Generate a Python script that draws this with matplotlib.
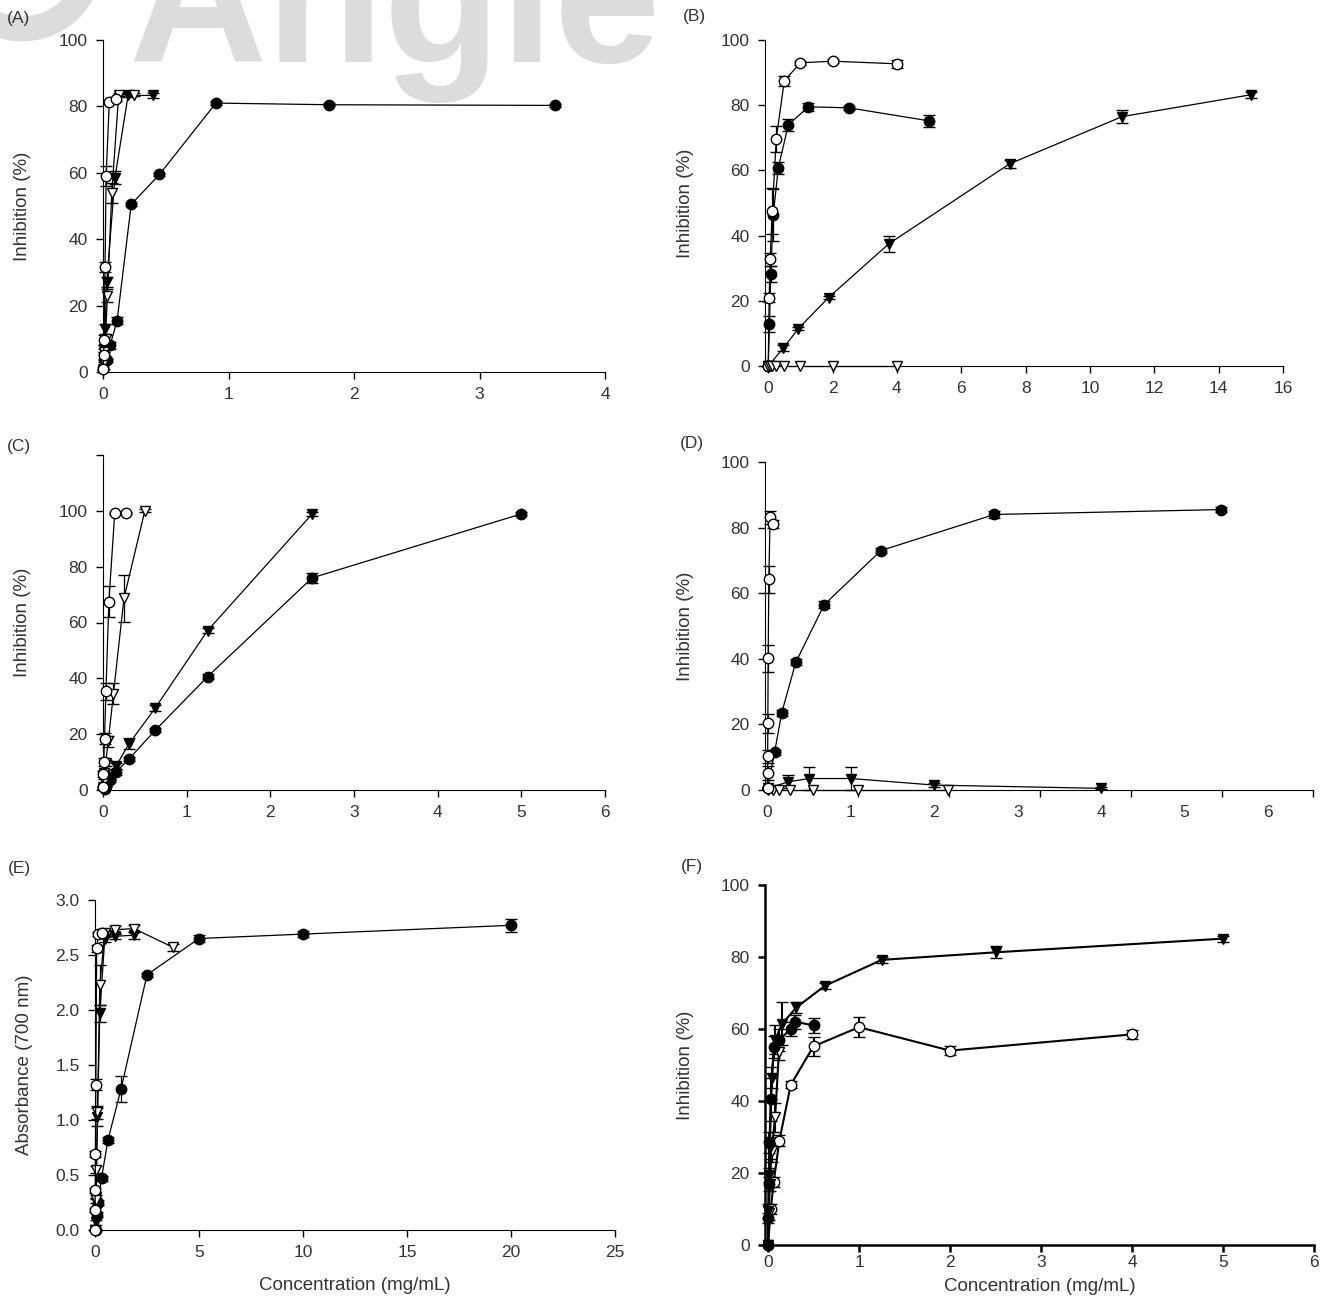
import numpy as np
import matplotlib
matplotlib.use("Agg")
import matplotlib.pyplot as plt
from matplotlib.patches import Circle

plt.rcParams["font.family"] = ["Liberation Sans", "DejaVu Sans"]

# ---- Panel A ----
a_fc_x = [0.028, 0.056, 0.1125, 0.225, 0.45, 0.9, 1.8, 3.6]
a_fc_y = [3.5, 8, 15.5, 50.5, 59.5, 81, 80.5, 80.3]
a_fc_e = [0.5, 1, 1, 0.5, 0.5, 0.5, 0.5, 0.5]
a_oc_x = [0.002, 0.004, 0.008, 0.016, 0.025, 0.05, 0.1]
a_oc_y = [1, 5, 9.5, 31.5, 59, 81.3, 82.2]
a_oc_e = [0.5, 1, 1.5, 1.5, 3, 0.5, 0.5]
a_ft_x = [0.004, 0.008, 0.016, 0.03, 0.095, 0.2, 0.4]
a_ft_y = [2, 7, 13, 27, 58.5, 83.3, 83.3]
a_ft_e = [1, 1, 1.5, 1.5, 2, 0.5, 0.8]
a_ot_x = [0.002, 0.005, 0.01, 0.02, 0.035, 0.07, 0.125, 0.25]
a_ot_y = [0.5, 3, 6, 10, 23, 54, 83.5, 83.5]
a_ot_e = [0.5, 0.5, 1, 1, 2, 3, 0.5, 0.5]

# ---- Panel B ----
b_oc_x = [0, 0.03, 0.06, 0.125, 0.25, 0.5, 1, 2, 4]
b_oc_y = [0, 21, 32.7, 47.5, 69.7, 87.5, 93, 93.5, 92.7]
b_oc_e = [0, 1.5, 2, 7, 4, 1.5, 0.7, 0.7, 1.2]
b_fc_x = [0, 0.039, 0.078, 0.156, 0.3125, 0.625, 1.25, 2.5, 5]
b_fc_y = [0, 12.8, 28.3, 46.2, 60.8, 74, 79.5, 79.2, 75.2]
b_fc_e = [0, 2.5, 2.5, 8, 1.8, 1.8, 1.2, 0.6, 1.8]
b_ft_x = [0, 0.47, 0.94, 1.875, 3.75, 7.5, 11, 15]
b_ft_y = [0, 5.5, 11.5, 21, 37.5, 62, 76.5, 83.2]
b_ft_e = [0, 1, 0.5, 0.5, 2.5, 1.2, 2, 1]
b_ot_x = [0, 0.0625, 0.125, 0.25, 0.5, 1, 2, 4]
b_ot_y = [0, 0, 0, 0, 0, 0, 0, 0]

# ---- Panel C ----
c_fc_x = [0.02, 0.039, 0.078, 0.156, 0.3125, 0.625, 1.25, 2.5, 5]
c_fc_y = [0.5, 1.5, 3.5, 6.5, 11.2, 21.4, 40.6, 76, 98.9]
c_fc_e = [0.3, 0.5, 0.5, 1, 0.8, 0.8, 0.8, 1.7, 0.8]
c_ft_x = [0.02, 0.039, 0.078, 0.156, 0.3125, 0.625, 1.25, 2.5]
c_ft_y = [0.5, 2, 4.5, 8.6, 16.6, 29.4, 57.1, 98.9]
c_ft_e = [0.3, 0.5, 0.8, 1, 2, 1, 0.8, 0.8]
c_oc_x = [0.002, 0.004, 0.009, 0.018, 0.035, 0.07, 0.14, 0.28]
c_oc_y = [1, 5.7, 10, 18.3, 35.4, 67.4, 99.2, 99.2]
c_oc_e = [0.5, 1, 1.5, 2, 3, 5.5, 0.3, 0.3]
c_ot_x = [0.004, 0.008, 0.016, 0.031, 0.0625, 0.125, 0.25, 0.5]
c_ot_y = [0.6, 3.4, 6, 9.7, 17.4, 34.5, 68.6, 100]
c_ot_e = [0.3, 0.5, 1, 1, 2, 3.8, 8.5, 0.5]

# ---- Panel D ----
d_fc_x = [0, 0.085, 0.17, 0.34, 0.68, 1.36, 2.72, 5.44]
d_fc_y = [0.5, 11.5, 23.5, 39, 56.5, 73, 84, 85.5]
d_fc_e = [0.3, 0.8, 1, 1, 1, 0.8, 1, 0.8]
d_oc_x = [0, 0.001, 0.002, 0.004, 0.008, 0.016, 0.031, 0.0625]
d_oc_y = [0.5, 5.2, 10.3, 20.3, 40.1, 64.2, 83.2, 81]
d_oc_e = [0.3, 2, 2, 3, 4, 4, 2, 1.2]
d_ft_x = [0, 0.25, 0.5, 1, 2, 4]
d_ft_y = [0.5, 2.5, 3.5, 3.5, 1.5, 0.5]
d_ft_e = [0.3, 2, 3.5, 3.5, 0.5, 0.3]
d_ot_x = [0, 0.067, 0.135, 0.27, 0.54, 1.08, 2.16]
d_ot_y = [0, 0, 0, 0, 0, 0, 0]

# ---- Panel E ----
e_fc_x = [0.039, 0.078, 0.156, 0.3125, 0.625, 1.25, 2.5, 5, 10, 20]
e_fc_y = [0, 0.14, 0.25, 0.47, 0.82, 1.28, 2.32, 2.65, 2.69, 2.77]
e_fc_e = [0, 0.02, 0.02, 0.02, 0.03, 0.12, 0.02, 0.03, 0.03, 0.06]
e_oc_x = [0, 0.005, 0.01, 0.02, 0.04, 0.08, 0.16, 0.32]
e_oc_y = [0, 0.18, 0.36, 0.69, 1.32, 2.56, 2.69, 2.7]
e_oc_e = [0, 0.02, 0.02, 0.03, 0.05, 0.03, 0.02, 0.02]
e_ot_x = [0.015, 0.03, 0.06, 0.12, 0.23, 0.47, 0.94, 1.875, 3.75]
e_ot_y = [0, 0.27, 0.55, 1.07, 2.23, 2.7, 2.73, 2.74, 2.57]
e_ot_e = [0, 0.02, 0.03, 0.06, 0.18, 0.03, 0.03, 0.03, 0.03]
e_ft_x = [0.015, 0.03, 0.06, 0.12, 0.23, 0.47, 0.94, 1.875]
e_ft_y = [0, 0.07, 0.3, 1.03, 1.97, 2.65, 2.67, 2.68]
e_ft_e = [0, 0.02, 0.02, 0.08, 0.08, 0.03, 0.02, 0.03]

# ---- Panel F ----
f_ft_x = [0, 0.005, 0.01, 0.02, 0.039, 0.078, 0.156, 0.3125, 0.625, 1.25, 2.5, 5]
f_ft_y = [0, 9.5, 19.5, 27, 46.5, 57, 61.5, 66, 72, 79.2, 81.3, 85.1]
f_ft_e = [0, 2, 2, 3, 3, 4, 6, 1.5, 0.8, 0.8, 1.7, 0.8]
f_ot_x = [0, 0.01, 0.02, 0.039, 0.078, 0.12]
f_ot_y = [0, 9, 17, 26, 35.5, 53.5]
f_ot_e = [0, 2, 2, 3, 4, 2]
f_fc_x = [0, 0.004, 0.008, 0.016, 0.031, 0.0625, 0.125, 0.25, 0.3, 0.5]
f_fc_y = [0, 7.5, 17, 28.5, 40.5, 55, 57, 60, 62, 61]
f_fc_e = [0, 1.5, 2, 3, 6, 3, 3, 2, 2, 2]
f_oc_x = [0, 0.031, 0.0625, 0.125, 0.25, 0.5, 1, 2, 4]
f_oc_y = [0, 10, 17.5, 29, 44.5, 55.2, 60.5, 54, 58.5]
f_oc_e = [0, 1.5, 1.5, 1.5, 1, 2.7, 2.7, 1.2, 1.3]

W, H = 1325, 1303
TXT = "#333333"
FS = 12.5
MARK = "#dcdcdc"

fig = plt.figure(figsize=(W / 100, H / 100), dpi=100)

# faded watermark at the top, only its lower part is inside the picture
fig.text(128 / W, 1 - 62 / H, "Angle", fontsize=138, fontweight="bold",
         color=MARK, zorder=-5)
fig.patches.append(Circle((22 / W, 1 + 38 / H), 68 / W, transform=fig.transFigure,
                          fill=False, ec=MARK, lw=18, zorder=-5))


def add_ax(left, top, right, bottom):
    ax = fig.add_axes([left / W, 1 - bottom / H, (right - left) / W, (bottom - top) / H])
    ax.set_facecolor("none")
    ax.spines["top"].set_visible(False)
    ax.spines["right"].set_visible(False)
    ax.tick_params(direction="out", length=5, width=1, labelsize=FS, labelcolor=TXT, pad=6)
    return ax


def series(ax, x, y, err, marker, filled, lw=0.9):
    ax.errorbar(x, y, yerr=err, fmt="-", color="black", lw=lw, elinewidth=lw,
                capsize=4, capthick=lw, marker=marker, ms=7.5,
                mfc="black" if filled else "white", mec="black", mew=1.0,
                clip_on=False, zorder=3)


def panel_label(ax, letter, x, y, ylab_px, ylabel="Inhibition (%)",
                xlabel=None, xlab_px=47):
    fig.text(x / W, 1 - y / H, letter, fontsize=FS, color=TXT, ha="center", va="center")
    pos = ax.get_position()
    ax.set_ylabel(ylabel, fontsize=FS + 1, color=TXT)
    ax.yaxis.set_label_coords(-ylab_px / (pos.width * W), 0.5)
    if xlabel:
        ax.set_xlabel(xlabel, fontsize=FS + 1, color=TXT)
        ax.xaxis.set_label_coords(0.5, -xlab_px / (pos.height * H))


# (A)
ax = add_ax(103, 40, 605, 372)
series(ax, a_fc_x, a_fc_y, a_fc_e, "o", True)
series(ax, a_ft_x, a_ft_y, a_ft_e, "v", True)
series(ax, a_ot_x, a_ot_y, a_ot_e, "v", False)
series(ax, a_oc_x, a_oc_y, a_oc_e, "o", False)
ax.set_xlim(0, 4)
ax.set_ylim(0, 100)
ax.set_xticks(range(0, 5))
ax.set_yticks(range(0, 101, 20))
panel_label(ax, "(A)", 19, 19, 72)

# (B)
ax = add_ax(765, 40, 1283, 366)
series(ax, b_ft_x, b_ft_y, b_ft_e, "v", True)
series(ax, b_fc_x, b_fc_y, b_fc_e, "o", True)
series(ax, b_oc_x, b_oc_y, b_oc_e, "o", False)
series(ax, b_ot_x, b_ot_y, None, "v", False)
ax.set_xlim(-0.1, 16)
ax.set_ylim(0, 100)
ax.set_xticks(range(0, 17, 2))
ax.set_yticks(range(0, 101, 20))
panel_label(ax, "(B)", 694, 17, 71)

# (C)
ax = add_ax(103, 455, 605, 790)
series(ax, c_fc_x, c_fc_y, c_fc_e, "o", True)
series(ax, c_ft_x, c_ft_y, c_ft_e, "v", True)
series(ax, c_ot_x, c_ot_y, c_ot_e, "v", False)
series(ax, c_oc_x, c_oc_y, c_oc_e, "o", False)
ax.set_xlim(0, 6)
ax.set_ylim(0, 120)
ax.set_xticks(range(0, 7))
ax.set_yticks(range(0, 121, 20))
ax.set_yticklabels([str(v) for v in range(0, 101, 20)] + [""])
panel_label(ax, "(C)", 19, 446, 72)

# (D)
ax = add_ax(765, 462, 1313, 790)
series(ax, d_fc_x, d_fc_y, d_fc_e, "o", True)
series(ax, d_ft_x, d_ft_y, d_ft_e, "v", True)
series(ax, d_ot_x, d_ot_y, None, "v", False)
series(ax, d_oc_x, d_oc_y, d_oc_e, "o", False)
ax.set_xlim(-0.03, 6.54)
ax.set_ylim(0, 100)
ax.set_xticks(range(0, 7))
ax.set_xticks(np.linspace(0, 6.54, 7), minor=True)
ax.tick_params(axis="x", which="major", length=0, pad=11)
ax.tick_params(axis="x", which="minor", length=5, width=1)
ax.set_yticks(range(0, 101, 20))
panel_label(ax, "(D)", 692, 444, 71)

# (E)
ax = add_ax(95, 900, 615, 1230)
series(ax, e_fc_x, e_fc_y, e_fc_e, "o", True)
series(ax, e_ft_x, e_ft_y, e_ft_e, "v", True)
series(ax, e_ot_x, e_ot_y, e_ot_e, "v", False)
series(ax, e_oc_x, e_oc_y, e_oc_e, "o", False)
ax.set_xlim(0, 25)
ax.set_ylim(0, 3)
ax.set_xticks(range(0, 26, 5))
ax.set_yticks(np.arange(0, 3.01, 0.5))
ax.set_yticklabels([f"{v:.1f}" for v in np.arange(0, 3.01, 0.5)])
panel_label(ax, "(E)", 19, 868, 62, ylabel="Absorbance (700 nm)",
            xlabel="Concentration (mg/mL)", xlab_px=47)

# (F)
ax = add_ax(765, 885, 1314, 1245)
series(ax, f_oc_x, f_oc_y, f_oc_e, "o", False, lw=1.5)
series(ax, f_ot_x, f_ot_y, f_ot_e, "v", False, lw=1.5)
series(ax, f_fc_x, f_fc_y, f_fc_e, "o", True, lw=1.5)
series(ax, f_ft_x, f_ft_y, f_ft_e, "v", True, lw=1.5)
ax.set_xlim(-0.033, 6)
ax.set_ylim(0, 100)
ax.set_xticks(range(0, 7))
ax.set_yticks(range(0, 101, 20))
for s in ("left", "bottom"):
    ax.spines[s].set_linewidth(1.8)
ax.tick_params(width=1.8)
ax.tick_params(axis="x", pad=2)
panel_label(ax, "(F)", 692, 866, 71, xlabel="Concentration (mg/mL)", xlab_px=33)

fig.savefig("out.png", dpi=100)
